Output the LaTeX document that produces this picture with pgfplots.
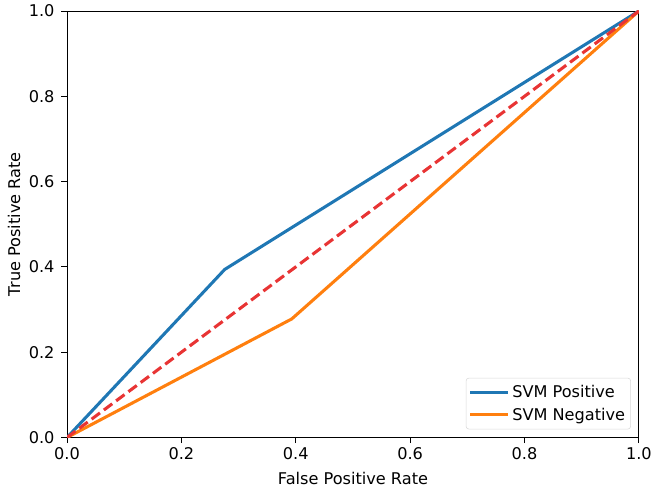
\documentclass[border=0pt]{standalone}
\usepackage{fontspec}
\setmainfont{DejaVu Sans}
\usepackage{pgfplots}
\pgfplotsset{compat=1.18}
\definecolor{mplblue}{HTML}{1F77B4}
\definecolor{mplorange}{HTML}{FF7F0E}
\definecolor{mplred}{RGB}{232,52,52}
\begin{document}
\begin{tikzpicture}
\begin{axis}[
  scale only axis, width=411pt, height=306.5pt,
  xmin=0, xmax=1, ymin=0, ymax=1,
  xtick={0,0.2,...,1}, ytick={0,0.2,...,1},
  xticklabel style={/pgf/number format/.cd,fixed,fixed zerofill,precision=1},
  yticklabel style={xshift=-1.5pt,/pgf/number format/.cd,fixed,fixed zerofill,precision=1},
  /pgf/number format/assume math mode=true,
  tick align=outside, tick pos=left,
  major tick length=4pt,
  every tick/.style={black, line width=0.7pt},
  axis line style={line width=0.7pt},
  tick label style={font=\fontsize{11.6}{14}\selectfont},
  label style={font=\fontsize{11.6}{14}\selectfont},
  xlabel={False Positive Rate}, ylabel={True Positive Rate},
  xlabel style={at={(axis description cs:0.5,0)}, anchor=center, yshift=-29.5pt},
  ylabel style={at={(axis description cs:0,0.5)}, anchor=center, yshift=38pt},
  legend style={at={(axis description cs:0.986,0.019)}, anchor=south east,
    font=\fontsize{11.6}{14}\selectfont, draw=black!15, rounded corners=2pt,
    inner xsep=2pt, inner ysep=3pt, row sep=2pt, nodes={inner sep=2pt}},
  legend cell align=left,
  legend image code/.code={\draw[#1, line width=2.2pt] (-4pt,0pt) -- (23pt,0pt);},
]
\addplot[mplblue, line width=2.2pt] coordinates {(0,0) (0.2757,0.394) (1,1)};
\addlegendentry{SVM Positive}
\addplot[mplorange, line width=2.2pt] coordinates {(0,0) (0.393,0.278) (1,1)};
\addlegendentry{SVM Negative}
\addplot[mplred, line width=2.2pt, dash pattern=on 7.5pt off 3.5pt, forget plot] coordinates {(0,0) (1,1)};
\end{axis}
\pgfresetboundingbox
\path (current axis.south west) ++(-48.2pt,-39.6pt) coordinate (bl);
\path (current axis.north east) ++(9.4pt,7.9pt) coordinate (tr);
\path[use as bounding box] (bl) rectangle (tr);
\end{tikzpicture}
\end{document}
